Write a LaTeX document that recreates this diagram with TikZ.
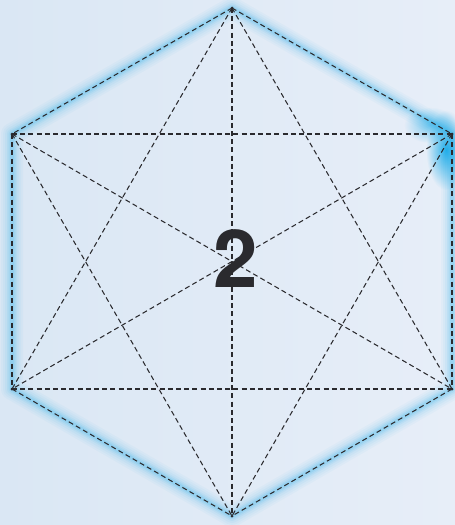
\documentclass[tikz,border=0pt]{standalone}
\usepackage{fontspec}
\setmainfont{TeX Gyre Heros}
\usetikzlibrary{fadings}
\definecolor{bgl}{HTML}{DAE7F4}
\definecolor{bgr}{HTML}{E7EEF8}
\definecolor{glow}{HTML}{10A8E8}
\definecolor{ink}{HTML}{2A2A2E}
\tikzfading[name=softglow, inner color=transparent!0, outer color=transparent!100]
\tikzset{
  edge/.style={draw=ink, line width=1.05pt, dash pattern=on 5pt off 3.2pt},
  vdot/.style={circle, fill=ink, inner sep=0pt, minimum size=3pt},
  glowline/.style={draw=glow, line join=round, line cap=round},
}
\begin{document}
\begin{tikzpicture}[x=1pt,y=-1pt]
\useasboundingbox (0,0) rectangle (455,525);
\shade[left color=bgl, right color=bgr] (0,0) rectangle (455,525);
\coordinate (T) at (232,8);
\coordinate (TL) at (12,134);
\coordinate (TR) at (452,134);
\coordinate (BL) at (12,389);
\coordinate (BR) at (452,389);
\coordinate (B) at (232,516);
% glow
\foreach \w/\o in {22/0.035,18/0.04,14/0.05,10/0.07,7/0.09,4/0.12}{
  \draw[glowline, line width=\w pt, opacity=\o] (T) -- (TR) -- (BR) -- (B) -- (BL) -- (TL) -- cycle;
}
\fill[glow, path fading=softglow, opacity=0.9] (446,150) ellipse (20 and 40);
\fill[glow, path fading=softglow, opacity=0.5] (430,125) ellipse (26 and 18);
% vertex nodes
\node[vdot] (t) at (T) {};
\node[vdot] (tl) at (TL) {};
\node[vdot] (tr) at (TR) {};
\node[vdot] (bl) at (BL) {};
\node[vdot] (br) at (BR) {};
\node[vdot] (b) at (B) {};
% all 15 connections
\foreach \a/\c in {t/tl,t/tr,t/bl,t/br,t/b,tl/tr,tl/bl,tl/br,tl/b,tr/bl,tr/br,tr/b,bl/br,bl/b,br/b}{
  \draw[edge] (\a.center) -- (\c.center);
}
\node[font=\fontsize{80}{80}\selectfont\bfseries, text=ink, inner sep=0pt] (num) at (236,259) {2};
\end{tikzpicture}
\end{document}
